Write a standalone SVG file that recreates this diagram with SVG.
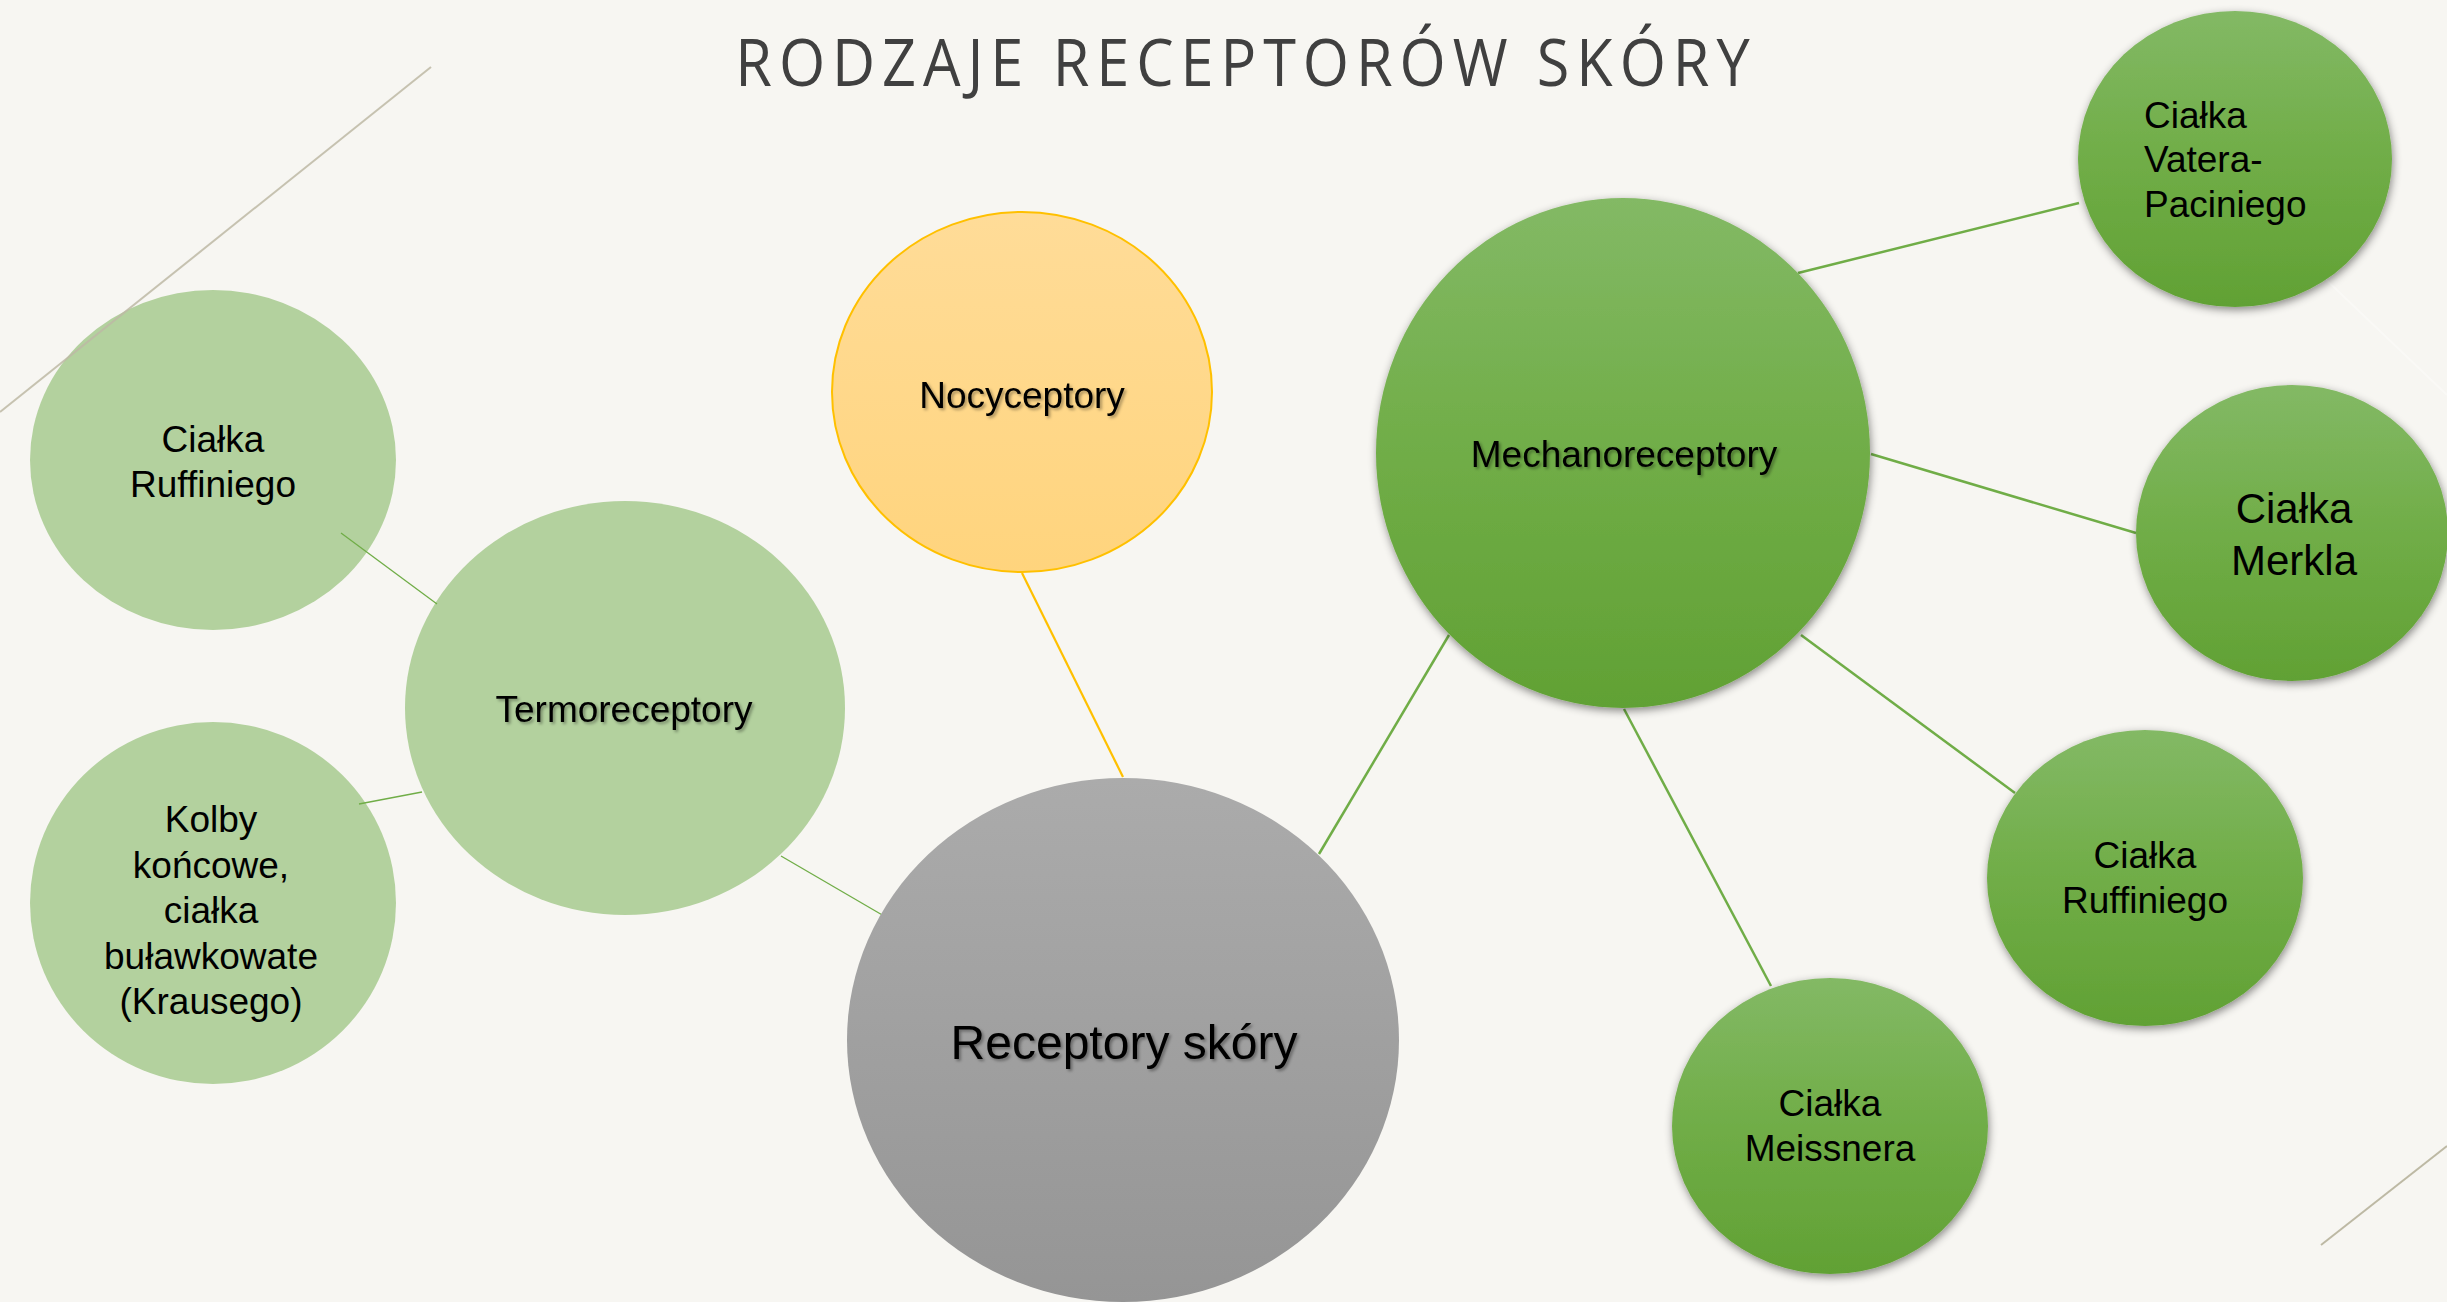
<svg xmlns="http://www.w3.org/2000/svg" width="2447" height="1302" viewBox="0 0 2447 1302">
<defs>
<linearGradient id="gDark" x1="0" y1="0" x2="0" y2="1">
<stop offset="0" stop-color="#83b965"/>
<stop offset="0.5" stop-color="#70ad47"/>
<stop offset="1" stop-color="#61a134"/>
</linearGradient>
<linearGradient id="gOrange" x1="0" y1="0" x2="0" y2="1">
<stop offset="0" stop-color="#ffdc98"/>
<stop offset="1" stop-color="#ffd47d"/>
</linearGradient>
<linearGradient id="gGrey" x1="0" y1="0" x2="0" y2="1">
<stop offset="0" stop-color="#ababab"/>
<stop offset="1" stop-color="#959595"/>
</linearGradient>
<filter id="nodeShadow" x="-20%" y="-20%" width="140%" height="140%">
<feDropShadow dx="1" dy="3" stdDeviation="4" flood-color="#000" flood-opacity="0.45"/>
</filter>
<filter id="textShadow" x="-10%" y="-30%" width="120%" height="160%">
<feDropShadow dx="2" dy="2" stdDeviation="1.5" flood-color="#000" flood-opacity="0.35"/>
</filter>
</defs>
<style>
.lbl{font-family:"Liberation Sans",Arial,sans-serif;font-size:37px;fill:#000;text-anchor:middle}
.big{font-size:48px}
.mid{font-size:42px}
.start{text-anchor:start}
.sh{filter:url(#textShadow)}
.light{fill:#b3d19e}
.dark{fill:url(#gDark);filter:url(#nodeShadow)}
.thin{stroke:#70ad47;stroke-width:1.3;fill:none}
.thick{stroke:#70ad47;stroke-width:2.5;fill:none}
.deco{stroke:#bdb9a4;stroke-width:2;fill:none}
</style>
<rect width="2447" height="1302" fill="#f7f6f2"/>
<line x1="2190" y1="150" x2="2447" y2="395" stroke="#ffffff" stroke-opacity="0.35" stroke-width="2"/>
<text x="817" y="86" transform="scale(0.9,1)" font-family="'Open Sans','DejaVu Sans',sans-serif" font-size="66" fill="#404040" textLength="1127" lengthAdjust="spacing">RODZAJE RECEPTORÓW SKÓRY</text>

<g id="node-ruffini-left">
<ellipse class="light" cx="213" cy="460" rx="183" ry="170"/>
<text class="lbl"><tspan x="213" y="452">Ciałka</tspan><tspan x="213" y="497">Ruffiniego</tspan></text>
</g>
<g id="node-krause">
<ellipse class="light" cx="213" cy="903" rx="183" ry="181"/>
<text class="lbl"><tspan x="211" y="832">Kolby</tspan><tspan x="211" y="878">końcowe,</tspan><tspan x="211" y="923">ciałka</tspan><tspan x="211" y="969">buławkowate</tspan><tspan x="211" y="1014">(Krausego)</tspan></text>
</g>
<g id="node-termo">
<ellipse class="light" cx="625" cy="708" rx="220" ry="207"/>
<text class="lbl sh" x="624" y="722">Termoreceptory</text>
</g>

<g id="connectors">
<line class="thin" x1="341" y1="533" x2="437" y2="604"/>
<line class="thin" x1="359" y1="804" x2="422" y2="792"/>
<line class="thin" x1="781" y1="856" x2="884" y2="916"/>
<line x1="1022" y1="573" x2="1123" y2="777" stroke="#ffc000" stroke-width="2.2"/>
<line class="thick" x1="1319" y1="854" x2="1449" y2="635"/>
<line class="thick" x1="1798" y1="273" x2="2079" y2="203"/>
<line class="thick" x1="1871" y1="454" x2="2136" y2="533"/>
<line class="thick" x1="1801" y1="635" x2="2015" y2="793"/>
<line class="thick" x1="1624" y1="709" x2="1771" y2="986"/>
</g>

<g id="node-nocy">
<ellipse cx="1022" cy="392" rx="190" ry="180" fill="url(#gOrange)" stroke="#ffc000" stroke-width="2"/>
<text class="lbl sh" x="1022" y="408">Nocyceptory</text>
</g>
<g id="node-receptory">
<ellipse cx="1123" cy="1040" rx="276" ry="262" fill="url(#gGrey)"/>
<text class="lbl big sh" x="1124" y="1059">Receptory skóry</text>
</g>
<g id="node-mechano">
<ellipse class="dark" cx="1623" cy="453" rx="247" ry="255"/>
<text class="lbl sh" x="1624" y="467">Mechanoreceptory</text>
</g>
<g id="node-vater">
<ellipse class="dark" cx="2235" cy="159" rx="157" ry="148"/>
<text class="lbl start"><tspan x="2144" y="128">Ciałka</tspan><tspan x="2144" y="172">Vatera-</tspan><tspan x="2144" y="217">Paciniego</tspan></text>
</g>
<g id="node-merkel">
<ellipse class="dark" cx="2292" cy="533" rx="156" ry="148"/>
<text class="lbl mid"><tspan x="2294" y="523">Ciałka</tspan><tspan x="2294" y="575">Merkla</tspan></text>
</g>
<g id="node-ruffini-right">
<ellipse class="dark" cx="2145" cy="878" rx="158" ry="148"/>
<text class="lbl"><tspan x="2145" y="868">Ciałka</tspan><tspan x="2145" y="913">Ruffiniego</tspan></text>
</g>
<g id="node-meissner">
<ellipse class="dark" cx="1830" cy="1126" rx="158" ry="148"/>
<text class="lbl"><tspan x="1830" y="1116">Ciałka</tspan><tspan x="1830" y="1161">Meissnera</tspan></text>
</g>

<line class="deco" x1="0" y1="412" x2="431" y2="67" stroke-opacity="0.85"/>
<line class="deco" x1="2321" y1="1245" x2="2447" y2="1146"/>
</svg>
